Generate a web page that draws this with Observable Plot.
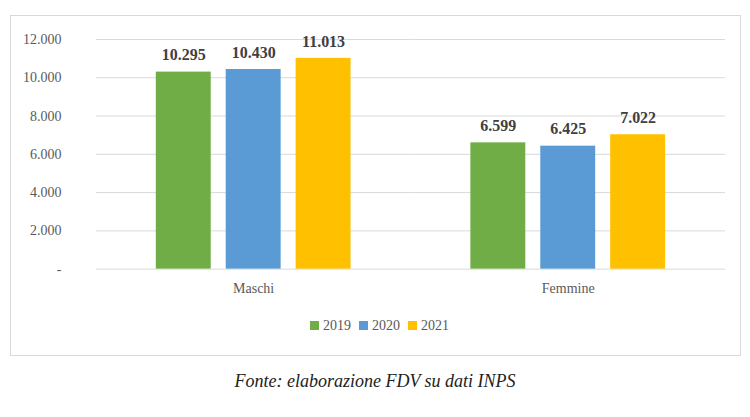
<!DOCTYPE html>
<html><head><meta charset="utf-8">
<script src="https://cdn.jsdelivr.net/npm/d3@7"></script>
<script src="https://cdn.jsdelivr.net/npm/@observablehq/plot@0.6"></script>
<style>
body{margin:0;background:#fff;width:750px;height:417px;position:relative;font-family:"Liberation Serif","Tinos","DejaVu Serif",serif;}
#box{position:absolute;left:10px;top:15px;width:729px;height:339px;border:1px solid #d9d9d9;}
#chart{position:absolute;left:0;top:0;}
#legend{position:absolute;left:0;width:729px;top:302px;text-align:center;font-size:14px;color:#595959;}
#legend span.sw{display:inline-block;width:9px;height:9px;margin:0 4px 0 8px;}
#cap{position:absolute;left:0;width:750px;top:371px;text-align:center;font-style:italic;font-size:18px;color:#222;}
</style></head><body>
<div id="box"><div id="chart"></div><div id="legend"></div></div>
<div id="cap">Fonte: elaborazione FDV su dati INPS</div>
<script>
const groups=["Maschi","Femmine"];
const years=["2019","2020","2021"];
const values={"Maschi":[10295,10430,11013],"Femmine":[6599,6425,7022]};
const colors=["#70ad47","#5b9bd5","#ffc000"];
const yTicks=[0,2000,4000,6000,8000,10000,12000];
const data=groups.flatMap(g=>years.map((y,i)=>({g,y,v:values[g][i]})));
const fmt=v=>v===0?"-":d3.format(",")(v).replace(/,/g,".");
const FONT="Liberation Serif, Tinos, DejaVu Serif, serif";
const p=Plot.plot({
  width:730,height:290,marginLeft:85,marginRight:15,marginTop:23,marginBottom:37,
  style:{fontFamily:FONT,fontSize:"14px",color:"#595959"},
  fx:{domain:groups,padding:0,label:null,axis:null},
  x:{domain:years,paddingInner:0.214,paddingOuter:0.857,axis:null},
  y:{domain:[0,12000],ticks:yTicks,tickFormat:fmt,label:null},
  color:{domain:years,range:colors},
  marks:[
    Plot.gridY(yTicks,{stroke:"#d9d9d9",strokeOpacity:1,facet:"exclude"}),
    Plot.axisY(yTicks,{tickFormat:fmt,tickSize:0,tickPadding:35,fontSize:14,textAnchor:"end"}),
    Plot.axisFx({anchor:"bottom",tickSize:0,tickPadding:14,fontSize:14,label:null}),
    Plot.barY(data,{fx:"g",x:"y",y:"v",fill:"y"}),
    Plot.text(data,{fx:"g",x:"y",y:"v",text:d=>fmt(d.v),dy:-17,fontWeight:"bold",fontSize:16,fill:"#404040"})
  ]
});
document.getElementById("chart").appendChild(p);
document.getElementById("legend").innerHTML=years.map((y,i)=>`<span class="sw" style="background:${colors[i]}"></span>${y}`).join("");
</script></body></html>
